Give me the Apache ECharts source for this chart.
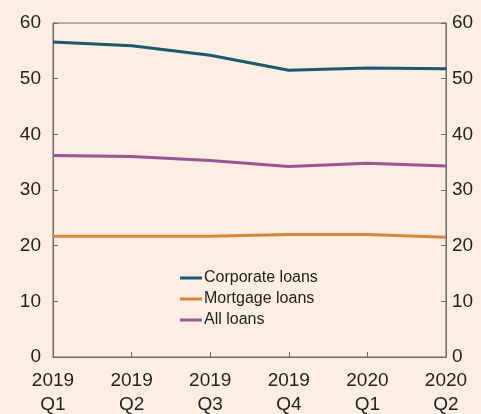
<!DOCTYPE html>
<html>
<head>
<meta charset="utf-8">
<script src="https://cdn.jsdelivr.net/npm/echarts@6/dist/echarts.min.js"></script>
<style>
  html, body { margin: 0; padding: 0; background: #FCEEE2; }
  #chart { width: 481px; height: 414px; }
</style>
</head>
<body>
<div id="chart"></div>
<script>
var quarters = ['2019\nQ1', '2019\nQ2', '2019\nQ3', '2019\nQ4', '2020\nQ1', '2020\nQ2'];
var corporateLoans = [56.6, 55.9, 54.2, 51.5, 51.9, 51.8];
var mortgageLoans = [21.7, 21.7, 21.7, 22.0, 22.0, 21.5];
var allLoans = [36.2, 36.0, 35.3, 34.2, 34.8, 34.3];

var myChart = echarts.init(document.getElementById('chart'));

var yAxisBase = function(pos){
	return {
		type: 'value',
		position: pos,
		min: 0,
		max: 60,
		interval: 10,
		axisLine: { show: true, lineStyle: { color: '#6b6b6b', width: 1 } },
		axisTick: { show: true, inside: true, length: 5, lineStyle: { color: '#6b6b6b' } },
		splitLine: { show: false },
		axisLabel: {
			color: '#222',
			fontSize: 19,
			fontFamily: 'Liberation Sans, Arial, sans-serif',
			margin: pos == 'left' ? 12 : 6
		}
	};
};

var option = {
	backgroundColor: '#FCEEE2',
	animation: false,
	grid: {
		left: 53,
		right: 35,
		top: 23,
		bottom: 57,
		containLabel: false,
		outerBoundsMode: 'none',
		show: true,
		borderColor: '#6b6b6b',
		borderWidth: 1,
		backgroundColor: 'transparent'
	},
	legend: {
		orient: 'vertical',
		left: 175,
		top: 265,
		itemWidth: 22,
		itemHeight: 3,
		itemGap: 5,
		icon: 'rect',
		textStyle: {
			color: '#222',
			fontSize: 16,
			fontFamily: 'Liberation Sans, Arial, sans-serif',
			padding: [0, 0, 0, -3]
		},
		data: ['Corporate loans', 'Mortgage loans', 'All loans']
	},
	xAxis: {
		type: 'category',
		boundaryGap: false,
		data: quarters,
		axisLine: { show: true, lineStyle: { color: '#6b6b6b', width: 1 } },
		axisTick: { show: true, inside: true, length: 5, lineStyle: { color: '#6b6b6b' } },
		axisLabel: {
			color: '#222',
			fontSize: 19,
			lineHeight: 24,
			margin: 12,
			fontFamily: 'Liberation Sans, Arial, sans-serif'
		}
	},
	yAxis: [yAxisBase('left'), yAxisBase('right')],
	series: [
		{
			name: 'Corporate loans',
			type: 'line',
			data: corporateLoans,
			symbol: 'none',
			itemStyle: { color: '#1E5871' },
			lineStyle: { width: 3, color: '#1E5871' }
		},
		{
			name: 'Mortgage loans',
			type: 'line',
			data: mortgageLoans,
			symbol: 'none',
			itemStyle: { color: '#D3873D' },
			lineStyle: { width: 3, color: '#D3873D' }
		},
		{
			name: 'All loans',
			type: 'line',
			data: allLoans,
			symbol: 'none',
			itemStyle: { color: '#9B5494' },
			lineStyle: { width: 3, color: '#9B5494' }
		}
	]
};

myChart.setOption(option);
</script>
</body>
</html>
